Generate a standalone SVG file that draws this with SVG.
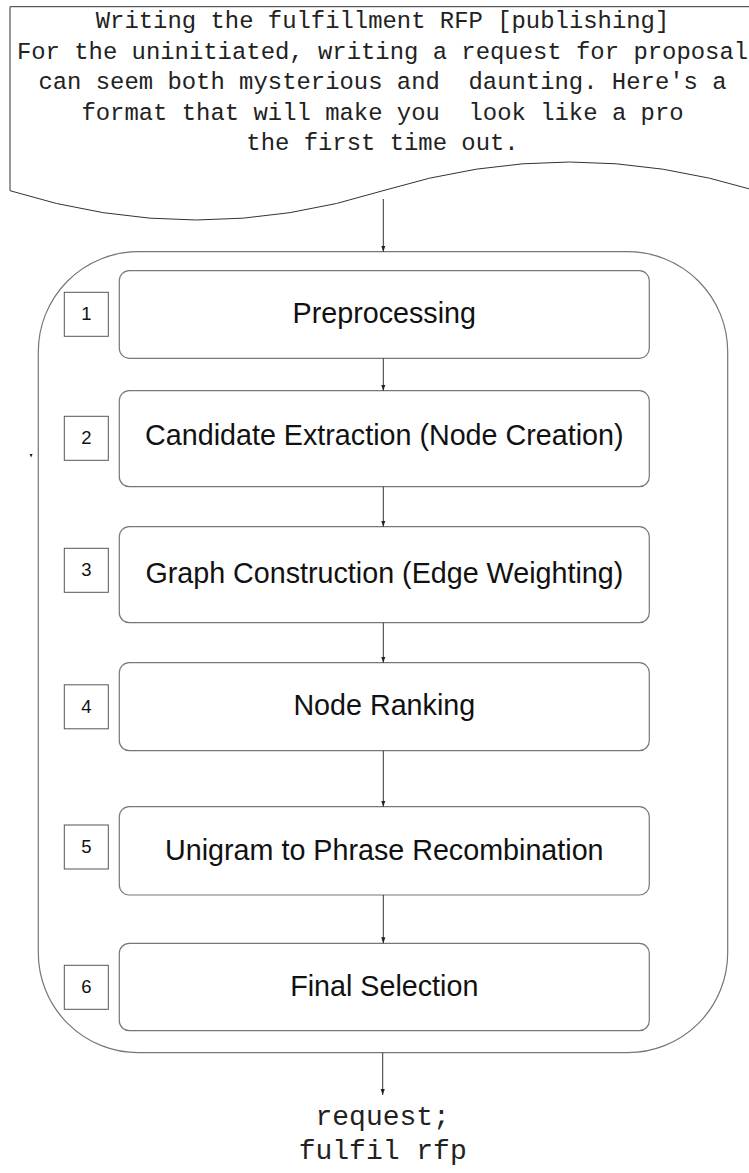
<svg xmlns="http://www.w3.org/2000/svg" width="749" height="1173" viewBox="0 0 749 1173">
<style>
.mono{font-family:"Liberation Mono","Courier New",monospace;fill:#222;text-anchor:middle}
.sans{font-family:"Liberation Sans",Arial,sans-serif;fill:#111;text-anchor:middle}
.box{fill:#fff;stroke:#777;stroke-width:1.2}
.num{fill:#fff;stroke:#555;stroke-width:1}
.conn{stroke:#333;stroke-width:1;fill:none}
</style>
<defs>
<marker id="ah" viewBox="0 0 6 6" refX="6" refY="3" markerWidth="6" markerHeight="6" orient="auto" markerUnits="userSpaceOnUse">
<path d="M0,0.9 L6,3 L0,5.1 Z" fill="#222"/>
</marker>
</defs>
<rect width="749" height="1173" fill="#fff"/>
<g id="doc">
<path d="M10,6.7 L756,6.7 L756,190.7 Q569.5,133.3 383,190.7 Q196.5,249.3 10,190.7 Z" fill="#fff" stroke="#333" stroke-width="1"/>
<text class="mono" font-size="23.9" x="382.5" y="28">Writing the fulfillment RFP [publishing]</text>
<text class="mono" font-size="23.9" x="382.5" y="58.5" xml:space="preserve">For the uninitiated, writing a request for proposal</text>
<text class="mono" font-size="23.9" x="382.5" y="89" xml:space="preserve">can seem both mysterious and  daunting. Here's a</text>
<text class="mono" font-size="23.9" x="382.5" y="119.5" xml:space="preserve">format that will make you  look like a pro</text>
<text class="mono" font-size="23.9" x="382.5" y="150">the first time out.</text>
</g>
<g id="container">
<rect x="38.3" y="251.7" width="689.4" height="801" rx="100" ry="100" fill="#fff" stroke="#777" stroke-width="1.2"/>
</g>
<g id="step1">
<rect class="box" x="119.3" y="270.7" width="530" height="87.6" rx="10"/>
<text class="sans" font-size="28.7" x="384.3" y="323.3">Preprocessing</text>
</g>
<g id="num1"><rect class="num" x="64.3" y="292.3" width="44" height="44"/><text class="sans" font-size="18.5" x="86.3" y="320.3">1</text></g>
<g id="step2">
<rect class="box" x="119.3" y="390.7" width="530" height="96" rx="10"/>
<text class="sans" font-size="28.7" x="384.3" y="445">Candidate Extraction (Node Creation)</text>
</g>
<g id="num2"><rect class="num" x="64.3" y="416.3" width="44" height="44"/><text class="sans" font-size="18.5" x="86.3" y="444.3">2</text></g>
<g id="step3">
<rect class="box" x="119.3" y="526.7" width="530" height="96" rx="10"/>
<text class="sans" font-size="28.7" x="384.3" y="583.3">Graph Construction (Edge Weighting)</text>
</g>
<g id="num3"><rect class="num" x="64.3" y="548.3" width="44" height="44"/><text class="sans" font-size="18.5" x="86.3" y="576.3">3</text></g>
<g id="step4">
<rect class="box" x="119.3" y="662.7" width="530" height="88" rx="10"/>
<text class="sans" font-size="28.7" x="384.3" y="715">Node Ranking</text>
</g>
<g id="num4"><rect class="num" x="64.3" y="684.8" width="44" height="44"/><text class="sans" font-size="18.5" x="86.3" y="712.8">4</text></g>
<g id="step5">
<rect class="box" x="119.3" y="806.7" width="530" height="88.3" rx="10"/>
<text class="sans" font-size="28.7" x="384.3" y="860">Unigram to Phrase Recombination</text>
</g>
<g id="num5"><rect class="num" x="64.3" y="825" width="44" height="44"/><text class="sans" font-size="18.5" x="86.3" y="853">5</text></g>
<g id="step6">
<rect class="box" x="119.3" y="943.3" width="530" height="87.4" rx="10"/>
<text class="sans" font-size="28.7" x="384.3" y="996">Final Selection</text>
</g>
<g id="num6"><rect class="num" x="64.3" y="965.3" width="44" height="44"/><text class="sans" font-size="18.5" x="86.3" y="993.3">6</text></g>
<g id="output">
<text class="mono" font-size="28" x="382.7" y="1125">request;</text>
<text class="mono" font-size="28" x="382.7" y="1159">fulfil rfp</text>
</g>
<g id="connectors">
<line class="conn" x1="383.3" y1="199" x2="383.3" y2="251.7" marker-end="url(#ah)"/>
<line class="conn" x1="383.3" y1="358.3" x2="383.3" y2="390.7" marker-end="url(#ah)"/>
<line class="conn" x1="383.3" y1="486.7" x2="383.3" y2="526.7" marker-end="url(#ah)"/>
<line class="conn" x1="383.3" y1="622.7" x2="383.3" y2="662.7" marker-end="url(#ah)"/>
<line class="conn" x1="383.3" y1="750.7" x2="383.3" y2="806.7" marker-end="url(#ah)"/>
<line class="conn" x1="383.3" y1="895" x2="383.3" y2="943.3" marker-end="url(#ah)"/>
<line class="conn" x1="382.7" y1="1052.7" x2="382.7" y2="1095" marker-end="url(#ah)"/>
<path d="M29.6,454 L32.6,454 L31.1,457.5 Z" fill="#222"/>
</g>
</svg>
